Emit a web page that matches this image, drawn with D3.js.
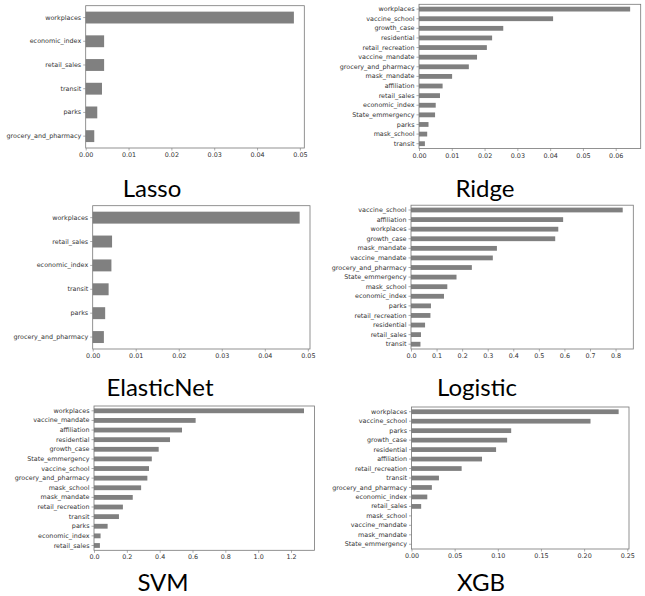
<!DOCTYPE html>
<html>
<head>
<meta charset="utf-8">
<script src="https://cdn.jsdelivr.net/npm/d3@7"></script>
<style>
  html, body { margin: 0; padding: 0; background: #fff; }
  svg { display: block; }
</style>
</head>
<body>
<svg id="chart" width="645" height="596"></svg>
<script>
// ---------- DATA (top-to-bottom order as displayed) ----------
const lassoFeatures = ["workplaces", "economic_index", "retail_sales", "transit", "parks", "grocery_and_pharmacy"];
const lassoValues   = [0.0486, 0.0043, 0.0043, 0.0038, 0.0027, 0.0020];
const lassoTicks    = [0, 0.01, 0.02, 0.03, 0.04, 0.05];

const ridgeFeatures = ["workplaces", "vaccine_school", "growth_case", "residential", "retail_recreation",
  "vaccine_mandate", "grocery_and_pharmacy", "mask_mandate", "affiliation", "retail_sales",
  "economic_index", "State_emmergency", "parks", "mask_school", "transit"];
const ridgeValues   = [0.0644, 0.0409, 0.0257, 0.0223, 0.0207, 0.0177, 0.0152, 0.0101, 0.0072, 0.0064,
  0.0051, 0.0049, 0.0029, 0.0025, 0.0018];
const ridgeTicks    = [0, 0.01, 0.02, 0.03, 0.04, 0.05, 0.06];

const elasticFeatures = ["workplaces", "retail_sales", "economic_index", "transit", "parks", "grocery_and_pharmacy"];
const elasticValues   = [0.0481, 0.0045, 0.00435, 0.0037, 0.0029, 0.0026];
const elasticTicks    = [0, 0.01, 0.02, 0.03, 0.04, 0.05];

const logisticFeatures = ["vaccine_school", "affiliation", "workplaces", "growth_case", "mask_mandate",
  "vaccine_mandate", "grocery_and_pharmacy", "State_emmergency", "mask_school", "economic_index",
  "parks", "retail_recreation", "residential", "retail_sales", "transit"];
const logisticValues   = [0.828, 0.595, 0.576, 0.564, 0.336, 0.320, 0.238, 0.178, 0.142, 0.129,
  0.078, 0.076, 0.055, 0.039, 0.037];
const logisticTicks    = [0, 0.1, 0.2, 0.3, 0.4, 0.5, 0.6, 0.7, 0.8];

const svmFeatures = ["workplaces", "vaccine_mandate", "affiliation", "residential", "growth_case",
  "State_emmergency", "vaccine_school", "grocery_and_pharmacy", "mask_school", "mask_mandate",
  "retail_recreation", "transit", "parks", "economic_index", "retail_sales"];
const svmValues   = [1.279, 0.619, 0.536, 0.463, 0.394, 0.352, 0.335, 0.325, 0.287, 0.236,
  0.176, 0.152, 0.083, 0.040, 0.036];
const svmTicks    = [0, 0.2, 0.4, 0.6, 0.8, 1.0, 1.2];

const xgbFeatures = ["workplaces", "vaccine_school", "parks", "growth_case", "residential", "affiliation",
  "retail_recreation", "transit", "grocery_and_pharmacy", "economic_index", "retail_sales",
  "mask_school", "vaccine_mandate", "mask_mandate", "State_emmergency"];
const xgbValues   = [0.240, 0.2074, 0.1155, 0.1108, 0.0980, 0.0817, 0.0581, 0.0318, 0.0236, 0.0183, 0.0112,
  0, 0, 0, 0];
const xgbTicks    = [0, 0.05, 0.10, 0.15, 0.20, 0.25];

const titles = ["Lasso", "Ridge", "ElasticNet", "Logistic", "SVM", "XGB"];

// ---------- LAYOUT ----------
const panels = [
  { title: titles[0], feats: lassoFeatures, vals: lassoValues, ticks: lassoTicks, fmt: ".2f",
    box: { l: 85.7, r: 304.3, t: 5.7, b: 148 }, tx: 152, ty: 197 },
  { title: titles[1], feats: ridgeFeatures, vals: ridgeValues, ticks: ridgeTicks, fmt: ".2f",
    box: { l: 419, r: 640.7, t: 4.3, b: 148.5 }, tx: 485, ty: 197 },
  { title: titles[2], feats: elasticFeatures, vals: elasticValues, ticks: elasticTicks, fmt: ".2f",
    box: { l: 92.7, r: 310, t: 205.7, b: 349 }, tx: 160, ty: 396 },
  { title: titles[3], feats: logisticFeatures, vals: logisticValues, ticks: logisticTicks, fmt: ".1f",
    box: { l: 411, r: 633.3, t: 205.2, b: 349 }, tx: 477, ty: 396 },
  { title: titles[4], feats: svmFeatures, vals: svmValues, ticks: svmTicks, fmt: ".1f",
    box: { l: 94, r: 314.5, t: 406, b: 550.3 }, tx: 163, ty: 591 },
  { title: titles[5], feats: xgbFeatures, vals: xgbValues, ticks: xgbTicks, fmt: ".2f",
    box: { l: 411.5, r: 629, t: 407, b: 549 }, tx: 481, ty: 591 }
];

const svg = d3.select("#chart");
const barColor = "#808080";
const spineColor = "#777";
const textColor = "#333";
const fontFam = "DejaVu Sans, sans-serif";
const fs = 6.4;

panels.forEach(p => {
  const b = p.box;
  const g = svg.append("g");
  const xmax = d3.max(p.vals) * 1.05;
  const x = d3.scaleLinear().domain([0, xmax]).range([b.l, b.r]);
  const y = d3.scaleBand().domain(p.feats).range([b.t, b.b]).paddingInner(0.5).paddingOuter(0.25);

  // bars
  g.selectAll("rect.bar").data(p.feats).enter().append("rect")
    .attr("class", "bar")
    .attr("x", x(0))
    .attr("y", d => y(d))
    .attr("width", (d, i) => Math.max(0, x(p.vals[i]) - x(0)))
    .attr("height", y.bandwidth())
    .attr("fill", barColor);

  // spines
  g.append("rect")
    .attr("x", b.l).attr("y", b.t)
    .attr("width", b.r - b.l).attr("height", b.b - b.t)
    .attr("fill", "none").attr("stroke", spineColor).attr("stroke-width", 0.8);

  // x axis
  const xAxis = d3.axisBottom(x).tickValues(p.ticks).tickFormat(d3.format(p.fmt))
    .tickSize(2.5).tickPadding(2);
  const xg = g.append("g").attr("transform", `translate(0,${b.b})`).call(xAxis);
  xg.select(".domain").remove();
  xg.selectAll("line").attr("stroke", spineColor).attr("stroke-width", 0.6);
  xg.selectAll("text").attr("font-family", fontFam).attr("font-size", fs).attr("fill", textColor);

  // y axis
  const yAxis = d3.axisLeft(y).tickSize(2.5).tickPadding(2);
  const yg = g.append("g").attr("transform", `translate(${b.l},0)`).call(yAxis);
  yg.select(".domain").remove();
  yg.selectAll("line").attr("stroke", spineColor).attr("stroke-width", 0.6);
  yg.selectAll("text").attr("font-family", fontFam).attr("font-size", fs).attr("fill", textColor);

  // title
  g.append("text")
    .attr("x", p.tx).attr("y", p.ty)
    .attr("text-anchor", "middle")
    .attr("font-family", "Lato, sans-serif")
    .attr("font-size", 24)
    .attr("fill", "#000")
    .text(p.title);
});
</script>
</body>
</html>
